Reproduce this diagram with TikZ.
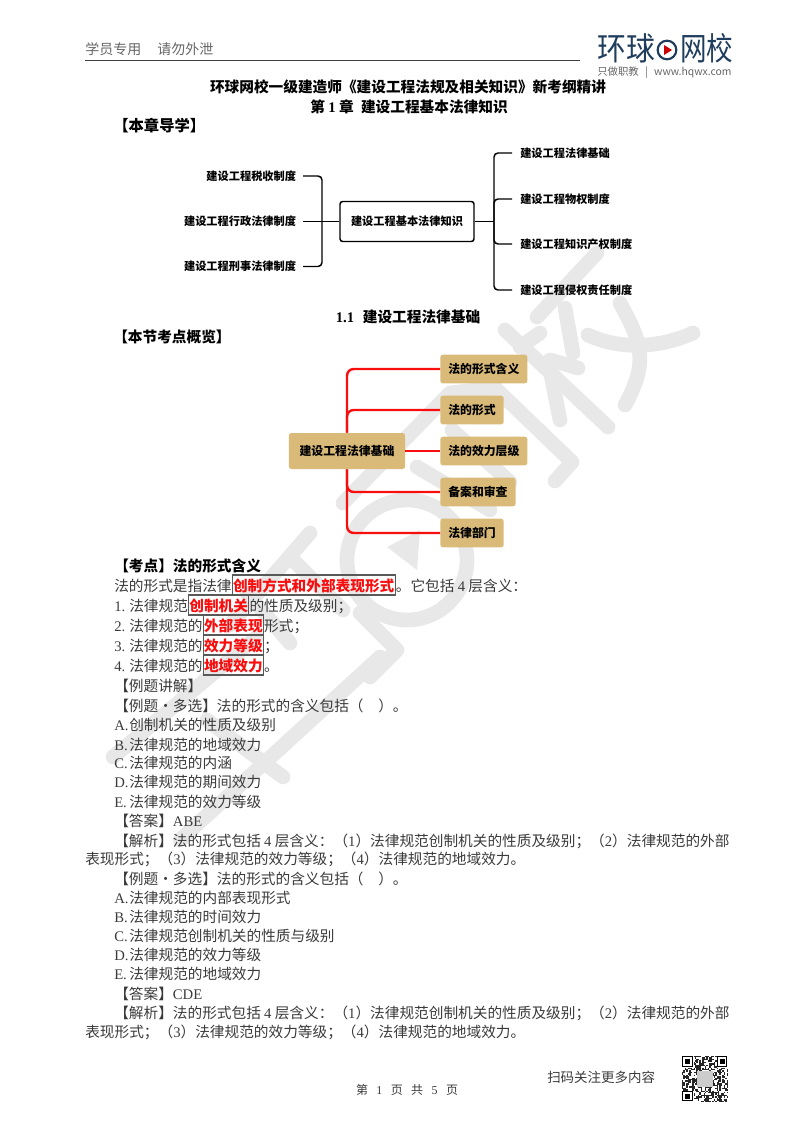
\documentclass[tikz,border=0pt]{standalone}
\usepackage{fontspec}
\setmainfont{Noto Sans CJK SC}
\newfontfamily\latfont{Liberation Serif}
\usetikzlibrary{positioning}
\definecolor{inkgray}{HTML}{3A3A3A}
\definecolor{headgray}{HTML}{666666}
\definecolor{markred}{HTML}{F80E0E}
\definecolor{boxtan}{HTML}{D9BA78}
\definecolor{wmgray}{HTML}{E8E8E8}
\definecolor{logonavy}{HTML}{1F3D5C}
\newcommand{\bodysize}{\fontsize{11}{13}\selectfont}
\newcommand{\lat}[1]{{\latfont #1}}
\newcommand{\itemlab}[1]{\makebox[11.25pt][l]{\lat{#1}}}
\tikzset{
    watermark/.style={draw=wmgray,line width=11pt,line cap=round,line join=round},
    linetext/.style={anchor=west,inner sep=0pt,text=inkgray,text height=10.5pt,text depth=1.5pt,font=\bodysize},
    boldtext/.style={linetext,text=black,font=\bodysize\bfseries},
    marktext/.style={draw=black!65,line width=.8pt,inner xsep=.5pt,inner ysep=1.5pt,text=markred,text height=10.5pt,text depth=1.5pt,font=\bodysize\bfseries},
    charttext/.style={inner ysep=1pt,inner xsep=5pt,text=black,font=\fontsize{8.4}{10}\selectfont\bfseries},
    treeline/.style={draw=black,line width=1.1pt,rounded corners=3pt},
    rootbox/.style={draw=black,line width=1.1pt,rounded corners=2pt,minimum width=100.5pt,minimum height=30pt,inner sep=0pt,font=\fontsize{8.4}{10}\selectfont\bfseries},
    tanbox/.style={fill=boxtan,rounded corners=2pt,anchor=west,inner xsep=6pt,inner ysep=0pt,minimum height=21.5pt,font=\fontsize{8.9}{10}\selectfont\bfseries},
    redline/.style={draw=markred,line width=1.8pt,rounded corners=5pt}
}
\begin{document}
\begin{tikzpicture}[x=.75pt,y=-.75pt]
\useasboundingbox (0,0) rectangle (800,1132);
% watermark
\draw[watermark] (597,253) -- (537,317);
\draw[watermark] (505,330) -- (608,427);
\draw[watermark] (565,308) -- (573,353);
\draw[watermark] (540,333) -- (520,347);
\draw[watermark] (550,360) -- (578,368);
\draw[watermark] (550,370) -- (560,420);
\draw[watermark] (588,335) .. controls (620,350) and (660,348) .. (693,333);
\draw[watermark] (620,303) .. controls (640,340) and (650,360) .. (625,405);
\draw[watermark] (343,503) -- (450,393) -- (495,388) -- (572,462) -- (555,481);
\draw[watermark] (452,430) -- (510,482);
\draw[watermark] (417,467) -- (490,510);
\draw[watermark] (407,560) circle (60);
\fill[wmgray] (387,547) -- (420,530) -- (417,570) -- cycle;
\draw[watermark] (293,560) -- (343,610);
\draw[watermark] (247,593) -- (290,643);
\draw[watermark] (310,533) -- (230,625);
\draw[watermark] (257,637) -- (113,757);
\draw[watermark] (207,720) -- (283,777);
\draw[watermark] (180,840) -- (380,657);
\draw[watermark] (360,613) -- (397,650) -- (370,677);
% header
\node[anchor=west,inner sep=0pt,text=headgray,font=\fontsize{10.5}{12}\selectfont] (hnote) at (85,49) {学员专用\hspace{12pt}请勿外泄};
\coordinate (hruleA) at (85,60);
\coordinate (hruleB) at (580,60);
\draw[line width=.7pt,draw=black!75] (hruleA) -- (hruleB);
\node[anchor=west,inner sep=0pt,text=logonavy,xscale=.9,transform shape,font=\fontsize{24}{26}\selectfont] (logoA) at (597,48) {环球};
\node[circle,draw=logonavy,line width=1.6pt,minimum size=14pt,inner sep=0pt] (logoring) at (667,50) {};
\fill[red!80!black] (664,45) -- (672,50) -- (664,55) -- cycle;
\node[anchor=west,inner sep=0pt,text=logonavy,xscale=.83,transform shape,font=\fontsize{24}{26}\selectfont] (logoB) at (680,48) {网校};
\node[anchor=west,inner sep=0pt,text=headgray,font=\fontsize{7.8}{9}\selectfont] (logosub) at (597,73) {只做职教\hspace{.6em}|\hspace{.6em}www.hqwx.com};
% titles
\node[boldtext,anchor=center] (title) at (408,86) {环球网校一级建造师《建设工程法规及相关知识》新考纲精讲};
\node[boldtext,anchor=center] (chapter) at (409,106) {第 \lat{1} 章\hspace{.5em}建设工程基本法律知识};
\node[boldtext,font=\fontsize{11.5}{13}\selectfont\bfseries] (guide) at (113,125) {【本章导学】};
% chapter chart
\node[rootbox] (root) at (407,221.5) {建设工程基本法律知识};
\node[charttext,anchor=east] (ltax) at (303,176) {建设工程税收制度};
\node[charttext,anchor=east] (ladmin) at (303,221.5) {建设工程行政法律制度};
\node[charttext,anchor=east] (lcrime) at (303,266.5) {建设工程刑事法律制度};
\node[charttext,anchor=west,inner xsep=6pt] (rbase) at (512,153) {建设工程法律基础};
\node[charttext,anchor=west,inner xsep=6pt] (rprop) at (512,199) {建设工程物权制度};
\node[charttext,anchor=west,inner xsep=6pt] (rip) at (512,244) {建设工程知识产权制度};
\node[charttext,anchor=west,inner xsep=6pt] (rtort) at (512,290) {建设工程侵权责任制度};
\coordinate (jleft) at (322,221.5);
\coordinate (jright) at (494,221.5);
\draw[treeline] (ltax.east) -| (jleft);
\draw[treeline] (lcrime.east) -| (jleft);
\draw[treeline] (ladmin.east) -- (root.west);
\draw[treeline] (root.east) -- (jright);
\draw[treeline] (jright) |- (rbase.west);
\draw[treeline] (jright) |- (rprop.west);
\draw[treeline] (jright) |- (rip.west);
\draw[treeline] (jright) |- (rtort.west);
\node[boldtext,anchor=center] (section) at (408,316) {\lat{1.1}\hspace{.6em}建设工程法律基础};
\node[boldtext] (survey) at (113,336) {【本节考点概览】};
% section chart
\node[tanbox,anchor=center,minimum height=27pt,inner xsep=8pt] (sroot) at (347,451) {建设工程法律基础};
\node[tanbox] (smean) at (440,369) {法的形式含义};
\node[tanbox] (sform) at (440,410) {法的形式};
\node[tanbox] (seff) at (440,451) {法的效力层级};
\node[tanbox] (srec) at (440,492) {备案和审查};
\node[tanbox] (sdept) at (440,533) {法律部门};
\draw[redline] (sroot.north) |- (smean.west);
\draw[redline] (sroot.north) |- (sform.west);
\draw[redline] (sroot.east) -- (seff.west);
\draw[redline] (sroot.south) |- (srec.west);
\draw[redline] (sroot.south) |- (sdept.west);
% body text
\node[boldtext] (kaodian) at (114,565) {【考点】法的形式含义};
\node[linetext] (para) at (114,585) {法的形式是指法律};
\node[marktext,right=0pt of para] (parm) {创制方式和外部表现形式};
\node[linetext,right=0pt of parm] (parb) {。它包括 \lat{4} 层含义：};
\node[linetext] (item1) at (114,605) {\itemlab{1.}法律规范};
\node[marktext,right=0pt of item1] (item1m) {创制机关};
\node[linetext,right=0pt of item1m] (item1b) {的性质及级别；};
\node[linetext] (item2) at (114,625) {\itemlab{2.}法律规范的};
\node[marktext,right=0pt of item2] (item2m) {外部表现};
\node[linetext,right=0pt of item2m] (item2b) {形式；};
\node[linetext] (item3) at (114,645) {\itemlab{3.}法律规范的};
\node[marktext,right=0pt of item3] (item3m) {效力等级};
\node[linetext,right=0pt of item3m] (item3b) {；};
\node[linetext] (item4) at (114,665) {\itemlab{4.}法律规范的};
\node[marktext,right=0pt of item4] (item4m) {地域效力};
\node[linetext,right=0pt of item4m] (item4b) {。};
\node[linetext] (ex1head) at (114,685) {【例题讲解】};
\node[linetext] (ex1q) at (114,705) {【例题·多选】法的形式的含义包括（\hspace{1em}）。};
\node[linetext] (ex1a) at (114,724) {\itemlab{A.}创制机关的性质及级别};
\node[linetext] (ex1b) at (114,744) {\itemlab{B.}法律规范的地域效力};
\node[linetext] (ex1c) at (114,762) {\itemlab{C.}法律规范的内涵};
\node[linetext] (ex1d) at (114,781) {\itemlab{D.}法律规范的期间效力};
\node[linetext] (ex1e) at (114,801) {\itemlab{E.}法律规范的效力等级};
\node[linetext] (ex1ans) at (114,820) {【答案】\lat{ABE}};
\node[linetext] (ex1jx) at (114,840) {【解析】法的形式包括 \lat{4} 层含义：（\lat{1}）法律规范创制机关的性质及级别；（\lat{2}）法律规范的外部};
\node[linetext] (ex1jy) at (85,858) {表现形式；（\lat{3}）法律规范的效力等级；（\lat{4}）法律规范的地域效力。};
\node[linetext] (ex2q) at (114,878) {【例题·多选】法的形式的含义包括（\hspace{1em}）。};
\node[linetext] (ex2a) at (114,897) {\itemlab{A.}法律规范的内部表现形式};
\node[linetext] (ex2b) at (114,916) {\itemlab{B.}法律规范的时间效力};
\node[linetext] (ex2c) at (114,935) {\itemlab{C.}法律规范创制机关的性质与级别};
\node[linetext] (ex2d) at (114,954) {\itemlab{D.}法律规范的效力等级};
\node[linetext] (ex2e) at (114,973) {\itemlab{E.}法律规范的地域效力};
\node[linetext] (ex2ans) at (114,993) {【答案】\lat{CDE}};
\node[linetext] (ex2jx) at (114,1012) {【解析】法的形式包括 \lat{4} 层含义：（\lat{1}）法律规范创制机关的性质及级别；（\lat{2}）法律规范的外部};
\node[linetext] (ex2jy) at (85,1031) {表现形式；（\lat{3}）法律规范的效力等级；（\lat{4}）法律规范的地域效力。};
% footer
\node[inner sep=0pt,text=inkgray,font=\fontsize{9}{11}\selectfont] (pageno) at (407,1090) {第\hspace{.7em}\lat{1}\hspace{.7em}页\hspace{.7em}共\hspace{.7em}\lat{5}\hspace{.7em}页};
\node[anchor=west,inner sep=0pt,text=inkgray,font=\fontsize{10.1}{12}\selectfont] (scan) at (547,1077) {扫码关注更多内容};
% qr code
\pgfmathsetseed{42}
\foreach \i in {0,...,31}{
    \foreach \j in {0,...,31}{
        \pgfmathparse{rnd<0.5?1:0}
        \ifnum\pgfmathresult=1
            \fill[black!85] ({682+\i*1.44},{1056+\j*1.44}) rectangle +(1.44,1.44);
        \fi
    }
}
\fill[gray!40] (697,1071) rectangle (713,1087);
\foreach \qx/\qy in {682/1056,716.5/1056,682/1090.5}{
    \fill[white] (\qx,\qy) rectangle +(11.5,11.5);
    \draw[black,line width=1pt] ({\qx+.7},{\qy+.7}) rectangle +(9.5,9.5);
    \fill[black] ({\qx+3},{\qy+3}) rectangle +(5,5);
}
\end{tikzpicture}
\end{document}
